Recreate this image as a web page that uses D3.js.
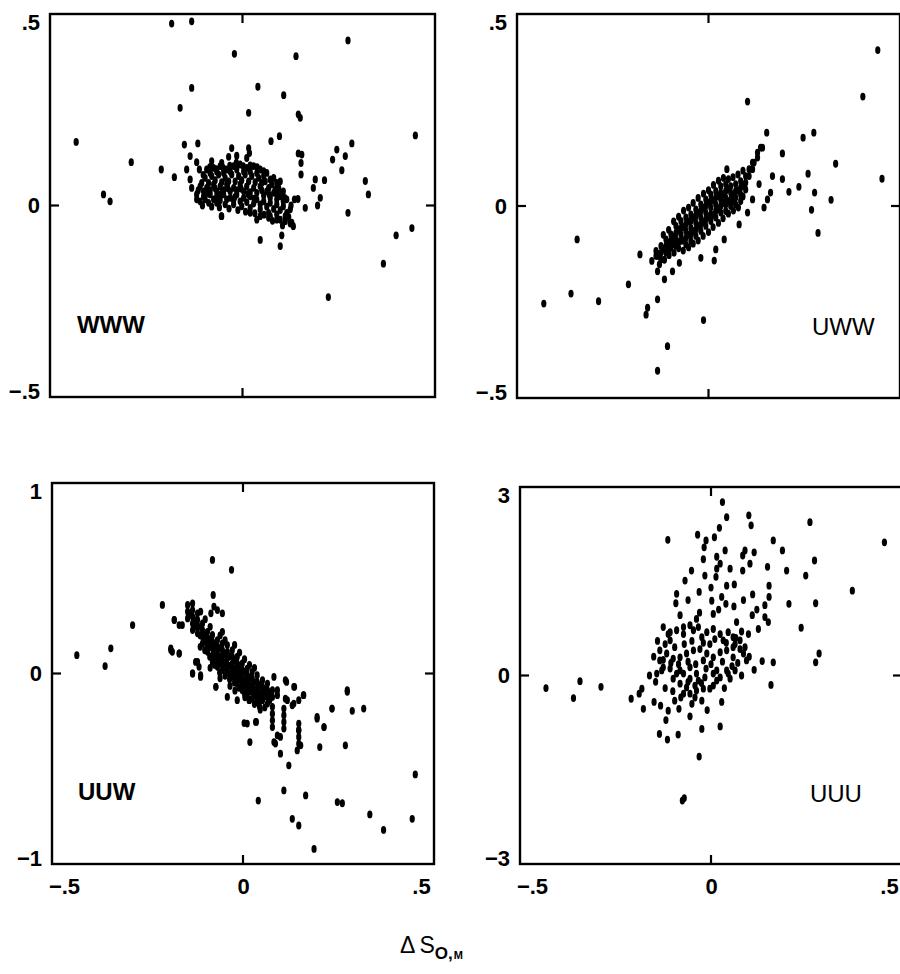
<!DOCTYPE html>
<html>
<head>
<meta charset="utf-8">
<style>
  body { margin: 0; background: #fff; }
  svg text { font-family: "Liberation Sans", Arial, sans-serif; fill: #000; }
</style>
</head>
<body>
<div class="container"></div>
<script src="https://d3js.org/d3.v7.min.js"></script>
<script>
// ---- data ----
var panelNames = ['WWW', 'UWW', 'UUW', 'UUU'];
var xTicks = [-0.5, 0, 0.5];
var yTicksWWW = [-0.5, 0, 0.5];
var yTicksUWW = [-0.5, 0, 0.5];
var yTicksUUW = [-1, 0, 1];
var yTicksUUU = [-3, 0, 3];
var axisTitle = 'ΔS';

var wwwPoints = [
  [-0.184,0.475],[-0.132,0.481],[-0.021,0.396],[0.139,0.390],[0.274,0.431],[-0.132,0.307],[0.040,0.310],[0.107,0.288],
  [-0.162,0.255],[0.016,0.242],[0.145,0.238],[0.150,0.229],[-0.432,0.166],[0.449,0.183],[-0.151,0.159],[-0.116,0.162],
  [-0.028,0.150],[0.016,0.150],[0.018,0.137],[0.074,0.168],[0.096,0.181],[-0.289,0.113],[-0.211,0.094],[-0.177,0.074],
  [-0.361,0.029],[-0.344,0.011],[0.284,0.162],[0.245,0.146],[0.234,0.120],[0.267,0.129],[0.258,0.092],[0.145,0.136],
  [0.154,0.133],[0.152,0.111],[0.152,0.081],[0.189,0.068],[0.213,0.066],[0.184,0.046],[0.202,0.020],[0.195,0.000],
  [0.163,-0.006],[0.319,0.064],[0.327,0.029],[0.274,-0.019],[-0.055,-0.028],[0.046,-0.090],[0.102,-0.078],[0.098,-0.106],
  [0.399,-0.078],[0.440,-0.059],[0.366,-0.152],[0.223,-0.239],[0.124,-0.047],[0.135,0.016],[0.144,0.017],
  [-0.136,0.129],[-0.119,0.113],[-0.112,0.094],[-0.036,0.127],[-0.015,0.130],[0.011,0.124],[-0.080,0.116],[-0.054,0.111],
  [-0.145,0.094],[-0.136,0.068],[-0.132,0.046],[-0.119,0.016],[-0.054,-0.028],[0.037,-0.037],[0.068,-0.032],[0.089,-0.037],
  [0.111,-0.041],[0.132,-0.054],
  [-0.093,0.094],[-0.075,0.098],[-0.058,0.103],[-0.041,0.094],[-0.023,0.103],[-0.006,0.107],[0.011,0.098],[0.029,0.103],
  [0.046,0.094],[0.063,0.085],[0.081,0.072],[0.098,0.063],
  [-0.084,0.085],[-0.067,0.089],[-0.049,0.085],[-0.032,0.089],[-0.015,0.094],[0.003,0.089],[0.020,0.089],[0.037,0.085],
  [0.055,0.077],[0.072,0.068],[0.089,0.059],
  [-0.097,0.072],[-0.080,0.077],[-0.062,0.081],[-0.045,0.072],[-0.028,0.081],[-0.010,0.077],[0.007,0.081],[0.024,0.077],
  [0.042,0.072],[0.059,0.063],[0.076,0.055],[0.094,0.046],[0.106,0.037],
  [-0.106,0.059],[-0.088,0.059],[-0.071,0.066],[-0.054,0.061],[-0.036,0.063],[-0.019,0.063],[-0.002,0.066],[0.016,0.063],
  [0.033,0.061],[0.050,0.059],[0.068,0.046],[0.085,0.042],[0.102,0.033],
  [-0.110,0.050],[-0.093,0.046],[-0.075,0.055],[-0.058,0.050],[-0.041,0.055],[-0.023,0.046],[-0.006,0.055],[0.011,0.050],
  [0.029,0.046],[0.046,0.050],[0.063,0.037],[0.081,0.033],[0.098,0.024],[0.115,0.016],
  [-0.101,0.037],[-0.084,0.040],[-0.067,0.037],[-0.049,0.040],[-0.032,0.037],[-0.015,0.040],[0.003,0.037],[0.020,0.035],
  [0.037,0.033],[0.055,0.026],[0.072,0.020],[0.089,0.016],[0.106,0.011],
  [-0.119,0.029],[-0.101,0.024],[-0.084,0.029],[-0.067,0.024],[-0.049,0.029],[-0.032,0.020],[-0.015,0.029],[0.003,0.020],
  [0.020,0.024],[0.037,0.016],[0.055,0.011],[0.072,0.007],[0.089,0.003],[0.106,-0.002],[0.124,-0.010],
  [-0.097,0.016],[-0.075,0.016],[-0.058,0.014],[-0.041,0.016],[-0.023,0.014],[-0.006,0.011],[0.011,0.009],[0.029,0.005],
  [0.046,0.003],[0.063,-0.003],[0.081,-0.009],[0.098,-0.012],
  [-0.110,0.011],[-0.088,0.007],[-0.067,0.007],[-0.045,0.003],[-0.023,0.003],[-0.002,-0.002],[0.020,-0.006],[0.046,-0.010],
  [0.068,-0.019],[0.089,-0.023],[0.111,-0.028],[0.128,-0.045],
  [0.115,-0.019],[0.098,-0.037],[0.072,-0.028],[0.046,-0.028],[0.020,-0.019],
  [-0.102,0.080],[-0.085,0.100],[-0.068,0.095],[-0.050,0.098],[-0.033,0.104],[-0.016,0.112],[0.002,0.103],[0.020,0.105],
  [0.038,0.100],[0.055,0.090],
  [-0.115,0.040],[-0.090,0.032],[-0.072,0.046],[-0.056,0.030],[-0.038,0.045],[-0.020,0.022],[-0.004,0.044],[0.014,0.030],
  [0.030,0.018],[0.050,0.040],[0.070,0.028],[0.090,0.030],[0.110,0.020],
  [-0.104,0.000],[-0.080,-0.003],[-0.060,-0.005],[-0.035,-0.008],[-0.012,-0.012],[0.008,-0.016],[0.032,-0.020],[0.056,-0.024],
  [0.078,-0.040],[0.104,-0.052],[0.120,-0.030],[0.126,0.000]
];

var uwwPoints = [
  [0.442,0.406],[0.403,0.285],[0.102,0.272],[0.152,0.191],[0.247,0.178],[0.275,0.191],[0.332,0.110],[0.453,0.071],
  [0.048,0.096],[0.260,0.084],[0.236,0.050],[0.210,0.037],[0.277,0.035],[0.320,0.016],[0.269,-0.010],[0.286,-0.070],
  [0.167,0.078],[0.193,0.070],[0.193,0.137],[0.136,0.152],[0.119,0.113],[0.132,0.057],[0.115,0.017],[0.154,0.017],
  [0.145,-0.004],[0.102,-0.017],[0.080,-0.048],[0.041,-0.087],[0.019,-0.113],[0.015,-0.142],[-0.020,-0.135],[-0.076,-0.148],
  [-0.094,-0.170],[-0.115,-0.191],[-0.133,-0.243],[-0.159,-0.265],[-0.163,-0.283],[-0.107,-0.365],[-0.133,-0.429],[-0.013,-0.297],
  [-0.209,-0.204],[-0.287,-0.248],[-0.359,-0.228],[-0.430,-0.254],[-0.343,-0.087],[-0.179,-0.126],[-0.148,-0.143],[-0.133,-0.130],
  [-0.133,-0.170],[0.162,0.035],
  [-0.137,-0.117],[-0.137,-0.130],
  [-0.124,-0.104],[-0.124,-0.122],[-0.124,-0.139],
  [-0.111,-0.087],[-0.111,-0.104],[-0.111,-0.122],
  [-0.098,-0.074],[-0.098,-0.091],[-0.098,-0.109],
  [-0.085,-0.052],[-0.085,-0.070],[-0.085,-0.087],[-0.085,-0.104],
  [-0.072,-0.039],[-0.072,-0.057],[-0.072,-0.074],[-0.072,-0.091],
  [-0.059,-0.030],[-0.059,-0.048],[-0.059,-0.065],[-0.059,-0.083],[-0.059,-0.100],
  [-0.046,-0.022],[-0.046,-0.039],[-0.046,-0.057],[-0.046,-0.074],[-0.046,-0.091],
  [-0.033,-0.009],[-0.033,-0.026],[-0.033,-0.043],[-0.033,-0.061],[-0.033,-0.078],
  [-0.020,0.004],[-0.020,-0.013],[-0.020,-0.030],[-0.020,-0.048],[-0.020,-0.065],
  [-0.007,0.017],[-0.007,0.000],[-0.007,-0.017],[-0.007,-0.035],[-0.007,-0.052],
  [0.006,0.030],[0.006,0.013],[0.006,-0.004],[0.006,-0.022],[0.006,-0.039],
  [0.019,0.039],[0.019,0.022],[0.019,0.004],[0.019,-0.013],[0.019,-0.030],
  [0.032,0.052],[0.032,0.035],[0.032,0.017],[0.032,0.000],[0.032,-0.017],
  [0.045,0.057],[0.045,0.039],[0.045,0.022],[0.045,0.004],[0.045,-0.013],
  [0.058,0.052],[0.058,0.035],[0.058,0.017],[0.058,0.000],
  [0.071,0.057],[0.071,0.039],[0.071,0.022],[0.071,0.004],
  [0.084,0.065],[0.084,0.048],[0.084,0.030],[0.084,0.013],
  [0.097,0.078],[0.097,0.061],[0.097,0.043],
  [0.106,0.096],[0.106,0.078],
  [0.115,0.113],[0.115,0.096],
  [0.128,0.126],[0.128,0.139],
  [0.141,0.152],
  [-0.118,-0.075],[-0.104,-0.062],[-0.091,-0.040],[-0.078,-0.028],[-0.065,-0.012],[-0.052,-0.004],[-0.040,0.008],[-0.027,0.021],
  [-0.013,0.032],[0.000,0.041],[0.013,0.055],[0.026,0.066],[0.039,0.073],[0.052,0.070],[0.064,0.075],[0.077,0.082],[0.090,0.092],
  [-0.128,-0.152],[-0.115,-0.140],[-0.103,-0.128],[-0.090,-0.122],[-0.078,-0.110],[-0.066,-0.116],[-0.052,-0.108],[-0.040,-0.098],
  [-0.027,-0.090],[-0.014,-0.078],[0.000,-0.068],[0.012,-0.055],[0.026,-0.044],[0.038,-0.032],[0.052,-0.020],[0.065,-0.012],
  [0.078,-0.004],[0.090,0.025],
  [-0.130,-0.125],[-0.117,-0.112],[-0.104,-0.095],[-0.091,-0.080],[-0.078,-0.062],[-0.065,-0.055],[-0.052,-0.040],[-0.040,-0.030],
  [-0.027,-0.018],[-0.013,-0.005],[0.000,0.008],[0.013,0.014],[0.026,0.026],[0.039,0.030],[0.052,0.044],[0.064,0.030],
  [0.077,0.040],[0.090,0.055],
  [-0.104,-0.113],[-0.091,-0.099],[-0.078,-0.093],[-0.065,-0.090],[-0.052,-0.075],[-0.040,-0.066],[-0.027,-0.052],[-0.013,-0.042],
  [0.000,-0.028],[0.013,-0.023],[0.026,-0.008],[0.039,0.008],[0.052,0.012],[0.064,0.012]
];

var uuwPoints = [
  [-0.080,0.596],[-0.030,0.544],[-0.078,0.412],[-0.211,0.360],[-0.289,0.254],[-0.346,0.132],[-0.435,0.096],[-0.361,0.039],
  [-0.180,0.281],[-0.159,0.254],[-0.189,0.123],[-0.167,0.105],[-0.132,0.000],[-0.111,-0.009],[-0.071,-0.070],[-0.119,0.061],
  [0.273,-0.096],[0.233,-0.184],[0.286,-0.196],[0.316,-0.184],[0.194,-0.237],[0.212,-0.281],[0.268,-0.377],[0.201,-0.386],
  [0.135,-0.070],[0.114,-0.044],[0.158,-0.114],[0.133,-0.158],[0.111,-0.132],[0.035,-0.254],[0.003,-0.260],[0.018,-0.360],
  [0.081,-0.360],[0.098,-0.421],[0.120,-0.482],[0.146,-0.298],[0.151,-0.377],[0.142,-0.404],[0.451,-0.530],[0.107,-0.614],
  [0.164,-0.640],[0.040,-0.667],[0.247,-0.675],[0.260,-0.681],[0.332,-0.740],[0.443,-0.763],[0.129,-0.763],[0.146,-0.798],
  [0.368,-0.821],[0.186,-0.921],
  [-0.076,0.351],[-0.084,0.316],[-0.067,0.333],[-0.054,0.316],[-0.054,0.219],[-0.111,0.325],[-0.119,0.316],[-0.180,0.281],
  [-0.167,0.254],[-0.189,0.132],[-0.167,0.105],[-0.185,0.114],[-0.124,0.061],[-0.115,0.035],[-0.132,0.000],[-0.111,-0.018],
  [-0.071,-0.070],[-0.041,-0.123],[-0.015,-0.140],[0.016,-0.140],[0.037,-0.132],[0.081,-0.018],[0.111,-0.035],[0.133,-0.070],
  [0.159,-0.114],[0.146,-0.140],[0.116,-0.140],[0.129,-0.167],
  [0.077,-0.175],[0.077,-0.211],[0.077,-0.246],[0.077,-0.281],[0.107,-0.184],[0.107,-0.219],[0.107,-0.254],[0.107,-0.289],
  [0.146,-0.263],[0.146,-0.298],[0.146,-0.333],[0.146,-0.368],[0.090,-0.325],[0.085,-0.368],[0.098,-0.333],[0.011,-0.263],
  [0.033,-0.254],[0.194,-0.228],[0.212,-0.281],[0.233,-0.184],[0.273,-0.088],
  [-0.145,0.360],[-0.145,0.325],[-0.145,0.289],
  [-0.132,0.368],[-0.132,0.333],[-0.132,0.298],[-0.132,0.263],[-0.132,0.228],
  [-0.119,0.281],[-0.119,0.246],[-0.119,0.211],
  [-0.106,0.263],[-0.106,0.228],[-0.106,0.193],[-0.106,0.158],
  [-0.093,0.219],[-0.093,0.184],[-0.093,0.149],[-0.093,0.114],
  [-0.080,0.202],[-0.080,0.167],[-0.080,0.132],[-0.080,0.096],[-0.080,0.061],
  [-0.067,0.175],[-0.067,0.140],[-0.067,0.105],[-0.067,0.070],[-0.067,0.035],
  [-0.054,0.158],[-0.054,0.123],[-0.054,0.088],[-0.054,0.053],[-0.054,0.018],
  [-0.041,0.149],[-0.041,0.114],[-0.041,0.079],[-0.041,0.044],[-0.041,0.009],
  [-0.028,0.123],[-0.028,0.088],[-0.028,0.053],[-0.028,0.018],[-0.028,-0.018],
  [-0.015,0.088],[-0.015,0.053],[-0.015,0.018],[-0.015,-0.018],[-0.015,-0.053],
  [-0.002,0.053],[-0.002,0.018],[-0.002,-0.018],[-0.002,-0.053],[-0.002,-0.088],
  [0.011,0.026],[0.011,-0.009],[0.011,-0.044],[0.011,-0.079],[0.011,-0.114],
  [0.024,0.009],[0.024,-0.026],[0.024,-0.061],[0.024,-0.096],[0.024,-0.132],
  [0.037,-0.009],[0.037,-0.044],[0.037,-0.079],[0.037,-0.114],[0.037,-0.149],
  [0.051,-0.035],[0.051,-0.070],[0.051,-0.105],[0.051,-0.140],
  [0.064,-0.053],[0.064,-0.088],[0.064,-0.123],[0.064,-0.158],
  [0.077,-0.088],[0.077,-0.123],
  [0.090,-0.088],[0.090,-0.114],
  [-0.112,0.140],[-0.100,0.122],[-0.087,0.088],[-0.074,0.045],[-0.086,0.030],[-0.061,0.005],[-0.047,-0.012],[-0.060,-0.025],
  [-0.035,-0.030],[-0.022,-0.048],[-0.034,-0.065],[-0.010,-0.075],[-0.021,-0.090],[0.004,-0.105],[0.017,-0.140],[0.005,-0.125],
  [0.030,-0.160],[0.043,-0.172],[0.057,-0.178],[0.045,-0.190],[0.070,-0.140],
  [-0.138,0.310],[-0.125,0.280],[-0.112,0.245],[-0.099,0.210],[-0.086,0.180],[-0.073,0.150],[-0.060,0.135],[-0.047,0.105],
  [-0.035,0.090],[-0.022,0.070],[-0.009,0.040],[0.004,0.010],[0.017,-0.020],[0.030,-0.045],[0.044,-0.060],[0.057,-0.085],
  [0.070,-0.100],
  [-0.125,0.245],[-0.112,0.200],[-0.099,0.175],[-0.086,0.140],[-0.073,0.110],[-0.060,0.088],[-0.047,0.060],[-0.035,0.040],
  [-0.022,0.025],[-0.009,0.000],[0.004,-0.035],[0.017,-0.060],[0.030,-0.085],[0.044,-0.100],[0.057,-0.120],
  [-0.073,0.080],[-0.060,0.050],[-0.047,0.030],[-0.035,-0.005],[-0.022,-0.010],[-0.009,-0.030],[0.004,-0.065],[0.017,-0.095],
  [0.030,-0.115],[0.044,-0.135],
  [-0.099,0.285],[-0.086,0.245],[-0.060,0.200],[-0.047,0.175],[-0.022,0.150],[-0.009,0.110],[0.004,0.075],[0.017,0.045],
  [0.030,0.030]
];

var uuuPoints = [
  [0.030,2.76],[0.041,2.52],[0.099,2.55],[0.105,2.39],[0.259,2.44],[0.454,2.12],[-0.113,2.16],[-0.035,2.24],
  [-0.013,2.15],[-0.018,2.04],[0.009,2.20],[0.022,2.35],[0.037,1.99],[0.015,1.89],[0.024,1.78],[0.015,1.70],
  [0.089,1.99],[0.113,1.96],[0.102,1.78],[0.083,1.91],[0.083,1.67],[0.163,2.15],[0.187,1.99],[0.271,1.83],
  [0.148,1.73],[0.198,1.67],[0.248,1.59],[-0.051,1.67],[-0.068,1.51],[-0.016,1.59],[0.013,1.57],[0.041,1.43],
  [0.061,1.45],[0.152,1.43],[0.109,1.29],[0.152,1.25],[0.141,1.12],[0.370,1.35],[0.204,1.14],[0.274,1.15],
  [-0.092,1.15],[-0.031,1.33],[0.002,1.19],[0.028,1.25],[0.039,1.14],[-0.081,0.96],[-0.038,0.90],[0.006,0.98],
  [0.067,0.85],[0.108,0.96],[0.141,0.93],[0.150,0.85],[0.124,0.74],[0.098,0.66],[0.236,0.76],[0.283,0.35],
  [0.274,0.21],[0.134,0.23],[0.163,0.21],[0.113,0.09],[0.157,-0.15],[0.080,0.00],
  [-0.112,0.66],[-0.107,0.56],[-0.072,0.66],[-0.046,0.72],[-0.024,0.61],[-0.003,0.50],[0.032,0.56],[0.063,0.50],
  [0.085,0.35],[0.058,0.29],[0.041,0.08],[0.015,0.08],[-0.013,0.11],[-0.038,0.03],[-0.055,0.13],[-0.081,0.08],
  [-0.099,-0.05],[-0.125,0.13],[-0.142,0.03],[-0.161,0.00],[-0.134,0.24],[-0.181,-0.21],[-0.188,-0.29],[-0.209,-0.37],
  [-0.177,-0.53],[-0.149,-0.42],[-0.132,-0.48],[-0.112,-0.56],[-0.118,-0.71],[-0.084,-0.53],[-0.079,-0.35],[-0.055,-0.29],
  [-0.038,-0.24],[-0.055,-0.65],[-0.024,-0.40],[-0.003,-0.21],[0.028,-0.42],[-0.024,-0.85],[0.024,-0.81],[-0.135,-0.93],
  [-0.114,-1.02],[-0.086,-0.94],[-0.031,-1.29],[-0.075,-1.99],[-0.070,-1.95],[-0.288,-0.18],[-0.343,-0.09],[-0.360,-0.36],
  [-0.432,-0.20],
  [-0.125,0.77],[-0.107,0.69],[-0.090,0.72],[-0.072,0.77],[-0.055,0.80],[-0.033,0.77],[-0.011,0.69],[0.006,0.74],
  [0.024,0.66],[0.045,0.69],[0.058,0.61],[0.076,0.56],[0.089,0.45],
  [-0.134,0.40],[-0.116,0.35],[-0.099,0.27],[-0.081,0.29],[-0.064,0.35],[-0.046,0.40],[-0.029,0.42],[-0.011,0.35],
  [0.006,0.29],[0.024,0.37],[0.041,0.40],[0.058,0.45],[0.076,0.42],[0.093,0.24],
  [-0.129,0.08],[-0.107,0.11],[-0.090,0.03],[-0.072,0.03],[-0.055,-0.05],[-0.033,-0.08],[-0.016,-0.03],[0.006,0.03],
  [0.024,-0.03],[0.045,0.03],[0.063,0.08],[0.050,-0.05],
  [-0.081,-0.13],[-0.064,-0.19],[-0.042,-0.16],[-0.020,-0.21],[0.006,-0.16],[-0.072,-0.29],[-0.042,-0.35],
  [-0.140,0.55],[-0.120,0.50],[-0.095,0.45],[-0.070,0.50],[-0.050,0.55],[-0.020,0.52],[0.010,0.58],[0.040,0.52],
  [0.065,0.60],[0.080,0.70],
  [-0.150,0.30],[-0.125,0.25],[-0.105,0.20],[-0.085,0.18],[-0.060,0.22],[-0.040,0.18],[-0.020,0.24],[0.000,0.18],
  [0.030,0.22],[0.055,0.15],[0.070,0.20],[0.100,0.30],
  [-0.145,-0.10],[-0.120,-0.20],[-0.100,-0.25],[-0.060,-0.10],[-0.025,-0.12],[0.015,-0.08],[0.035,-0.20],[-0.010,-0.55],
  [-0.050,-0.45],[-0.095,-0.40],
  [-0.030,1.00],[-0.060,1.20],[0.000,1.40],[0.020,1.05],[0.060,1.10],[0.085,1.20],[0.120,1.05],[-0.090,1.30],
  [0.050,1.70],[-0.020,1.85]
];

// ---- layout ----
var svg = d3.select('.container').append('svg')
    .attr('width', 900)
    .attr('height', 974)
    .style('display', 'block');

var panels = [
  { name: panelNames[0], pts: wwwPoints, yTicks: yTicksWWW, x0: 50,  x1: 435, y0: 14,  y1: 397, lab: [-0.43, -0.332], bold: true,  xAxis: false },
  { name: panelNames[1], pts: uwwPoints, yTicks: yTicksUWW, x0: 517, x1: 900, y0: 14,  y1: 398, lab: [0.27, -0.336],  bold: false, xAxis: false },
  { name: panelNames[2], pts: uuwPoints, yTicks: yTicksUUW, x0: 52,  x1: 434, y0: 483, y1: 864, lab: [-0.432, -0.664], bold: true,  xAxis: true },
  { name: panelNames[3], pts: uuuPoints, yTicks: yTicksUUU, x0: 520, x1: 902, y0: 487, y1: 864, lab: [0.259, -2.01],  bold: false, xAxis: true }
];

// tick label like ".5", "−.5", "0", "1"
function fmt(v) {
  if (v === 0) return '0';
  var s = String(Math.abs(v)).replace(/^0/, '');
  return (v < 0 ? '\u2212' : '') + s;
}

panels.forEach(function(p) {
  var sx = d3.scaleLinear().domain([xTicks[0], xTicks[2]]).range([p.x0, p.x1]);
  var sy = d3.scaleLinear().domain([p.yTicks[0], p.yTicks[2]]).range([p.y1, p.y0]);
  var g = svg.append('g');

  // frame
  g.append('rect')
    .attr('x', p.x0).attr('y', p.y0)
    .attr('width', p.x1 - p.x0).attr('height', p.y1 - p.y0)
    .attr('fill', 'none').attr('stroke', '#000').attr('stroke-width', 2.4);

  // inward ticks at zero
  var t = 9;
  [[sx(0), p.y0, sx(0), p.y0 + t], [sx(0), p.y1, sx(0), p.y1 - t],
   [p.x0, sy(0), p.x0 + t, sy(0)], [p.x1, sy(0), p.x1 - t, sy(0)]].forEach(function(l) {
    g.append('line')
      .attr('x1', l[0]).attr('y1', l[1]).attr('x2', l[2]).attr('y2', l[3])
      .attr('stroke', '#000').attr('stroke-width', 2.2);
  });

  // y tick labels
  var ya = g.append('g')
    .attr('transform', 'translate(' + p.x0 + ',0)')
    .call(d3.axisLeft(sy).tickValues(p.yTicks).tickFormat(fmt).tickSize(0).tickPadding(10))
    .attr('font-size', 22).attr('font-weight', 'bold')
    .attr('font-family', '"Liberation Sans", Arial, sans-serif');
  ya.select('.domain').remove();
  ya.selectAll('text')
    .attr('transform', function(d, i) { return i === 0 ? 'translate(0,-6)' : (i === 2 ? 'translate(0,8)' : null); });

  // x tick labels on bottom row
  if (p.xAxis) {
    var xa = g.append('g')
      .attr('transform', 'translate(0,' + p.y1 + ')')
      .call(d3.axisBottom(sx).tickValues(xTicks).tickFormat(fmt).tickSize(0).tickPadding(14))
      .attr('font-size', 22).attr('font-weight', 'bold')
      .attr('font-family', '"Liberation Sans", Arial, sans-serif');
    xa.select('.domain').remove();
    xa.selectAll('text')
      .attr('transform', function(d, i) { return i === 0 ? 'translate(12,0)' : (i === 2 ? 'translate(-13,0)' : null); });
  }

  // points
  g.append('g').selectAll('ellipse')
    .data(p.pts)
    .join('ellipse')
      .attr('cx', function(d) { return sx(d[0]); })
      .attr('cy', function(d) { return sy(d[1]); })
      .attr('rx', 2.6)
      .attr('ry', 3.9)
      .attr('fill', '#000');

  // panel name
  g.append('text')
    .attr('x', sx(p.lab[0]))
    .attr('y', sy(p.lab[1]))
    .attr('font-size', 24)
    .attr('font-weight', p.bold ? 'bold' : 'normal')
    .text(p.name);
});

// shared x-axis title
var title = svg.append('text')
    .attr('x', 400)
    .attr('y', 953)
    .attr('font-size', 23);
title.append('tspan').text(axisTitle.charAt(0));
title.append('tspan').attr('dx', 4).text(axisTitle.charAt(1));
title.append('tspan').attr('dy', 6).attr('font-size', 17).attr('font-weight', 'bold').text('O,');
title.append('tspan').attr('dx', 1).attr('font-size', 11).attr('font-weight', 'bold').text('M');
</script>
</body>
</html>
